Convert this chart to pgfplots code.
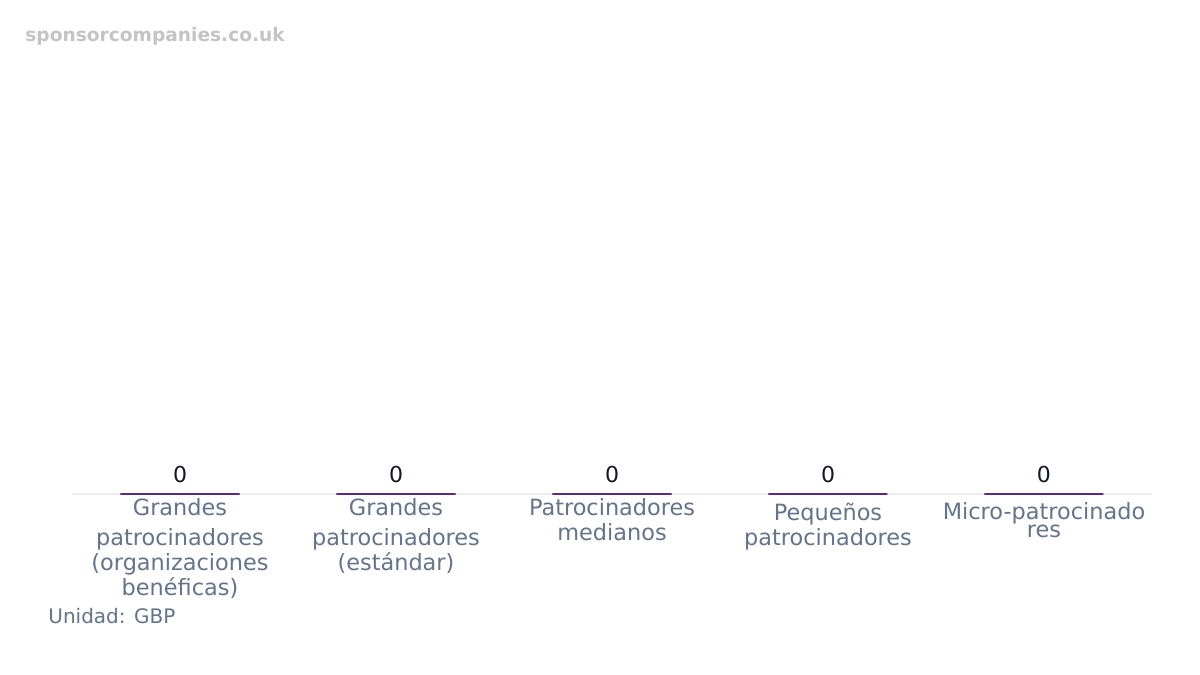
\documentclass[border=0pt]{standalone}
\usepackage{pgfplots}
\pgfplotsset{compat=1.18}
\usepackage{fontspec}
\setmainfont{DejaVu Sans}
\definecolor{barpurple}{HTML}{5B2A86}
\definecolor{labgray}{HTML}{64748B}
\definecolor{valdark}{HTML}{111827}
\definecolor{wmgray}{HTML}{C4C4C4}
\definecolor{basegray}{HTML}{EDEDED}
\begin{document}
\begin{tikzpicture}
\path[use as bounding box, fill=white] (0,0) rectangle (600pt,337.5pt);
\begin{axis}[
    at={(36pt,90.5pt)}, anchor=south west,
    scale only axis, width=540pt, height=217pt,
    xmin=-0.5, xmax=4.5, ymin=0, ymax=1,
    axis x line*=bottom, axis y line=none,
    x axis line style={draw=basegray, line width=0.6pt, -},
    xtick=data, major tick length=0pt,
    xticklabels={
      {Grandes\\[2.5pt]patrocinadores\\(organizaciones\\benéficas)},
      {Grandes\\[2.5pt]patrocinadores\\(estándar)},
      {Patrocinadores\\medianos},
      {\rule{0pt}{10.9pt}Pequeños\\patrocinadores},
      {\rule{0pt}{10.5pt}Micro-patrocinado\\[-3.5pt]res}},
    xticklabel style={anchor=north, align=center, inner sep=0pt, yshift=-2pt,
      text=labgray, font=\fontsize{11.2}{12.5}\selectfont},
    ybar, bar width=59.5pt,
    nodes near coords,
    /pgf/number format/assume math mode=true,
    every node near coord/.append style={anchor=base, yshift=5.5pt, inner sep=0pt,
      text=valdark, font=\fontsize{11}{13}\selectfont},
    clip=false,
]
\addplot[draw=barpurple, fill=barpurple, line width=1.2pt] coordinates {(0,0) (1,0) (2,0) (3,0) (4,0)};
\end{axis}
\node[anchor=west, inner sep=0pt, text=wmgray, font=\bfseries\fontsize{9.3}{11}\selectfont] at (12.5pt,319.5pt) {sponsorcompanies.co.uk};
\node[anchor=west, inner sep=0pt, text=labgray, font=\fontsize{10}{12}\selectfont] at (24pt,29.5pt) {Unidad: GBP};
\end{tikzpicture}
\end{document}
